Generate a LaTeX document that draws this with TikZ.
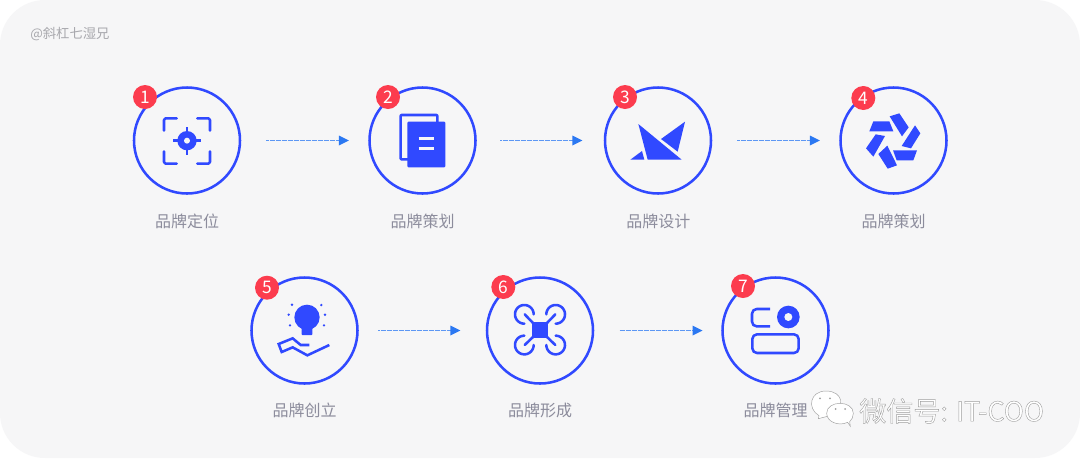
\documentclass[tikz,border=0pt]{standalone}
\usepackage{fontspec}
\setmainfont{Noto Sans CJK SC}
\usetikzlibrary{arrows.meta}
\definecolor{panel}{HTML}{F6F6F7}
\definecolor{brand}{HTML}{3049FF}
\definecolor{flowblue}{HTML}{2B78F2}
\definecolor{flowdot}{HTML}{5C97F4}
\definecolor{badgered}{HTML}{FC3C4E}
\definecolor{labelgray}{HTML}{8C8C9C}
\definecolor{markgray}{HTML}{A8A8AD}
\definecolor{wmgray}{HTML}{A0A0A0}
\tikzset{
  stage/.style={circle,draw=brand,line width=1.9pt,minimum size=79.5pt,inner sep=0pt,outer sep=0pt},
  badge/.style={circle,fill=badgered,minimum size=18pt,inner sep=0pt,text=white,font=\fontsize{13}{13}\selectfont},
  caption/.style={text=labelgray,font=\fontsize{12}{12}\selectfont,inner sep=0pt},
  flow/.style={draw=flowdot,line width=0.65pt,dash pattern=on 0.45pt off 0.45pt,
    -{Triangle[length=7.5pt,width=7.5pt,color=flowblue,fill=flowblue,line width=0pt]}},
  zoomed/.style={x=0.25pt,y=-0.25pt},
  ico/.style={draw=brand,line width=1.9pt,line cap=round,line join=round}
}
\begin{document}
\begin{tikzpicture}[x=0.75pt,y=-0.75pt]
\useasboundingbox (0,0) rectangle (1080,458);
\fill[white] (0,0) rectangle (1080,458);
\fill[panel,rounded corners=33.75pt] (0,0) rectangle (1080,458);
\node[text=markgray,font=\fontsize{10}{10}\selectfont,inner sep=0pt,anchor=west] (mark) at (30,34) {@斜杠七湿兄};

% stages
\node[stage] (c1) at (187,140.5) {};
\node[stage] (c2) at (422.5,140.5) {};
\node[stage] (c3) at (658,140.5) {};
\node[stage] (c4) at (893.5,140.5) {};
\node[stage] (c5) at (304.5,330.5) {};
\node[stage] (c6) at (540,330.5) {};
\node[stage] (c7) at (775.5,330.5) {};

% connectors
\draw[flow,shorten <=19.5pt,shorten >=15.5pt] (c1) -- (c2);
\draw[flow,shorten <=18.5pt,shorten >=17pt] (c2) -- (c3);
\draw[flow,shorten <=19.5pt,shorten >=15.5pt] (c3) -- (c4);
\draw[flow,shorten <=15.5pt,shorten >=20pt] (c5) -- (c6);
\draw[flow,shorten <=20pt,shorten >=15pt] (c6) -- (c7);

% badges
\node[badge] (b1) at (145,97) {1};
\node[badge] (b2) at (388,97) {2};
\node[badge] (b3) at (625,97) {3};
\node[badge] (b4) at (863.3,98) {4};
\node[badge] (b5) at (267,287.7) {5};
\node[badge] (b6) at (503.3,287) {6};
\node[badge] (b7) at (743,286) {7};

% captions
\node[caption] (t1) at (187,221.5) {品牌定位};
\node[caption] (t2) at (422.7,221.5) {品牌策划};
\node[caption] (t3) at (658.3,221.5) {品牌设计};
\node[caption] (t4) at (893.6,221.5) {品牌策划};
\node[caption] (t5) at (304.5,410) {品牌创立};
\node[caption] (t6) at (540,410) {品牌形成};
\node[caption] (t7) at (775.5,410) {品牌管理};

% icon 1
\begin{scope}[shift={(120,70)},zoomed]
\draw[ico,rounded corners=1.2pt] (132,182)--(132,145)--(170,145);
\draw[ico,rounded corners=1.2pt] (232,145)--(270,145)--(270,182);
\draw[ico,rounded corners=1.2pt] (132,244)--(132,281)--(170,281);
\draw[ico,rounded corners=1.2pt] (232,281)--(270,281)--(270,244);
\draw[ico,line cap=butt] (201,172)--(201,254) (160,212)--(243,212);
\fill[brand] (201,212) circle[radius=29];
\fill[panel] (201,212) circle[radius=9];
\end{scope}

% icon 2
\begin{scope}[shift={(360,70)},zoomed]
\draw[ico,rounded corners=0.6pt] (122,135) rectangle (232,268);
\fill[brand,rounded corners=0.8pt] (142,155) rectangle (256,292);
\draw[panel,line width=1.9pt] (176,205)--(222,205) (176,236)--(222,236);
\end{scope}

% icon 3
\begin{scope}[shift={(595,70)},zoomed]
\fill[brand] (130,162)--(260,269)--(158,269)--cycle;
\fill[brand] (270,155)--(198,207)--(248,245)--cycle;
\fill[brand] (106,269)--(141,243)--(148,269)--cycle;
% icon 4
\fill[brand] (835,154)--(883,154)--(895,184)--(823,184)--cycle;
\fill[brand] (884,139)--(913,130)--(941,172)--(921,199)--cycle;
\fill[brand] (960,166)--(976,190)--(948,235)--(920,228)--cycle;
\fill[brand] (894,241)--(966,241)--(955,271)--(905,271)--cycle;
\fill[brand] (877,227)--(906,286)--(878,296)--(850,252)--cycle;
\fill[brand] (842,193)--(870,198)--(835,260)--(813,235)--cycle;
\end{scope}

% icon 5
\begin{scope}[shift={(240,265)},zoomed]
\fill[brand] (201,157) circle[radius=38];
\fill[brand,rounded corners=0.6pt] (185,185) rectangle (217,210);
\foreach \p in {(156,119),(146,149),(150,181),(244,120),(255,149),(252,181)}
  \fill[brand] \p circle[radius=4];
\draw[ico,line cap=butt,line join=miter] (208,240)--(182,240)--(158,220)--(116,237)--(125,261)--(158,247)--(202,271)--(268,240);
\end{scope}

% icon 6
\begin{scope}[shift={(480,265)},zoomed]
\fill[brand] (157,172) rectangle (203,218);
\draw[ico] (134,148)--(160,175) (226,148)--(200,175) (134,240)--(160,215) (226,240)--(200,215);
\draw[ico] plot[smooth,domain=0:270,samples=30] ({133+28*cos(\x)},{148-28*sin(\x)});
\draw[ico] plot[smooth,domain=-90:180,samples=30] ({227+28*cos(\x)},{148-28*sin(\x)});
\draw[ico] plot[smooth,domain=90:360,samples=30] ({133+28*cos(\x)},{240-28*sin(\x)});
\draw[ico] plot[smooth,domain=180:450,samples=30] ({227+28*cos(\x)},{240-28*sin(\x)});
\end{scope}

% icon 7
\begin{scope}[shift={(715,265)},zoomed]
\draw[ico,rounded corners=3.5pt,line cap=butt] (165,132)--(111,132)--(111,184)--(165,184);
\fill[brand] (220,156) circle[radius=34];
\fill[panel] (220,156) circle[radius=12];
\draw[ico,rounded corners=3.5pt] (112,208) rectangle (251,264);
% watermark logo
\draw[wmgray,fill=white,line width=0.35pt] (310,461) -- (312,452) .. controls (275,430) and (285,378) .. (333,378) .. controls (385,378) and (395,430) .. (345,452) -- cycle;
\draw[wmgray,fill=white,line width=0.35pt] (406,484) -- (398,472) .. controls (370,485) and (335,470) .. (335,445) .. controls (335,405) and (415,405) .. (415,445) .. controls (415,455) and (410,465) .. (404,470) -- cycle;
\foreach \p in {(315,400),(345,400),(362,432),(390,432)}
  \fill[wmgray] \p circle[radius=3];
\end{scope}
\node[inner sep=0pt,anchor=west,font=\fontsize{20.3}{21}\selectfont] (wm) at (859,411)
  {\special{pdf:code q 2 Tr 0.3 w 0.62 G 1 g}微信号: IT-COO\special{pdf:code 0 Tr Q}};
\end{tikzpicture}
\end{document}
